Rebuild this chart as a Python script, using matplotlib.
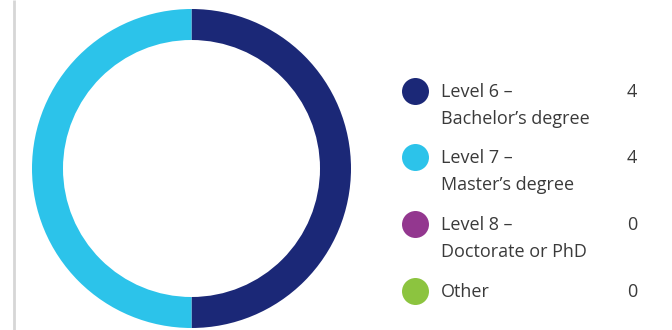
import matplotlib
matplotlib.use("Agg")
import matplotlib.pyplot as plt

categories = ["Level 6 –\nBachelor’s degree", "Level 7 –\nMaster’s degree",
              "Level 8 –\nDoctorate or PhD", "Other"]
values = [4, 4, 0, 0]
colors = ["#1b2877", "#2cc3ea", "#93378f", "#8cc43f"]

W, H = 672, 330
fig = plt.figure(figsize=(W / 100, H / 100), dpi=100)
ax = fig.add_axes([0, 0, 1, 1])

# left divider rule
ax.plot([13.5, 13.5], [0, H], color="#d6d6d6", lw=2, solid_capstyle="butt")

# donut
ax.pie(values, colors=colors, startangle=90, counterclock=False,
       center=(191.5, H - 168.5), radius=159.5,
       wedgeprops=dict(width=31, linewidth=0), frame=True)
ax.set_xlim(0, W)
ax.set_ylim(0, H)
ax.set_aspect("equal")
ax.axis("off")

# legend
row_y = [91, 157, 224, 291]
txt_color = "#3a3a3a"
font = dict(fontsize=13, family="Open Sans", color=txt_color)
for y, label, val, c in zip(row_y, categories, values, colors):
    yy = H - y
    ax.scatter([414.5], [yy], s=22 ** 2 * 0.78, color=c, zorder=3, linewidths=0)
    for i, line in enumerate(label.split("\n")):
        ax.text(441, yy - 1 - 27 * i, line, ha="left", va="center", **font)
    ax.text(632, yy - 1, str(val), ha="center", va="center", **font)

fig.savefig("out.png", dpi=100)
